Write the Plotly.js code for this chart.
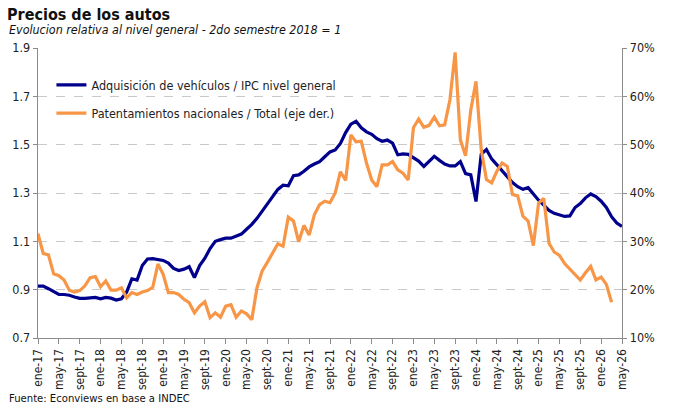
<!DOCTYPE html>
<html>
<head>
<meta charset="utf-8">
<script src="https://cdn.plot.ly/plotly-3.0.1.min.js"></script>
<style>html,body{margin:0;padding:0;background:#fff;}#chart{width:680px;height:408px;}</style>
</head>
<body>
<div id="chart"></div>
<script>
// Tick labels (every 4 months, starting ene-17)
const tickLabels = ['ene-17','may-17','sept-17','ene-18','may-18','sept-18','ene-19','may-19','sept-19',
  'ene-20','may-20','sept-20','ene-21','may-21','sept-21','ene-22','may-22','sept-22',
  'ene-23','may-23','sept-23','ene-24','may-24','sept-24','ene-25','may-25','sept-25','ene-26','may-26'];

// Series names
const seriesBlueName = 'Adquisición de vehículos / IPC nivel general';
const seriesOrangeName = 'Patentamientos nacionales / Total (eje der.)';

// Monthly values from ene-17 (left axis, index 2do sem 2018 = 1)
const adquisicionIPC = [
  0.915,0.915,0.904,0.892,0.880,0.880,0.877,0.870,0.864,0.864,
  0.865,0.868,0.862,0.868,0.865,0.857,0.862,0.890,0.945,0.940,
  1.000,1.027,1.028,1.026,1.021,1.010,0.988,0.979,0.985,0.995,
  0.950,1.000,1.030,1.070,1.100,1.107,1.113,1.113,1.121,1.130,
  1.150,1.170,1.195,1.225,1.260,1.290,1.315,1.332,1.330,1.372,
  1.375,1.390,1.408,1.420,1.430,1.450,1.470,1.478,1.505,1.550,
  1.585,1.597,1.570,1.553,1.543,1.525,1.514,1.519,1.506,1.458,
  1.462,1.460,1.445,1.432,1.410,1.430,1.452,1.435,1.420,1.412,
  1.412,1.430,1.380,1.375,1.265,1.460,1.480,1.441,1.416,1.388,
  1.366,1.343,1.326,1.315,1.322,1.295,1.270,1.250,1.228,1.216,
  1.210,1.203,1.205,1.240,1.256,1.280,1.296,1.285,1.266,1.240,
  1.202,1.176,1.162
];

// Monthly values from ene-17 (right axis, %)
const patentamientosPct = [
  31.6,27.5,27.2,23.3,22.9,22.0,19.9,19.5,19.8,20.8,
  22.5,22.7,20.6,21.8,19.9,19.9,20.4,18.3,19.4,19.0,
  19.5,19.8,20.5,25.3,23.2,19.4,19.4,19.0,18.0,17.3,
  15.2,16.6,17.5,14.2,15.2,14.3,16.6,16.9,14.3,15.6,
  15.0,13.8,20.4,23.9,25.7,27.7,29.5,29.0,35.0,34.2,
  29.9,33.3,31.3,35.5,37.6,38.3,38.0,40.0,44.4,42.6,
  52.0,50.6,50.7,46.2,42.7,41.3,45.8,45.8,46.5,44.8,
  44.1,42.7,53.5,55.3,53.6,54.0,55.7,53.9,54.1,59.3,
  69.1,51.0,47.7,57.2,63.1,49.0,42.8,42.1,44.5,46.2,
  45.5,39.7,39.4,35.2,34.2,29.1,37.9,38.9,29.6,27.8,
  27.1,25.4,24.3,23.3,22.0,23.5,24.8,22.0,22.6,21.1,
  17.4
];

const FONT = '"DejaVu Sans Condensed", "DejaVu Sans", sans-serif';
const monthIdx = arr => arr.map((_, i) => i);
const tickVals = tickLabels.map((_, k) => k * 4);

const traces = [
  {
    x: monthIdx(adquisicionIPC), y: adquisicionIPC, name: seriesBlueName,
    type: 'scatter', mode: 'lines', yaxis: 'y', legendgroup: 'a',
    line: {color: '#00008C', width: 3.2}
  },
  {
    x: monthIdx(patentamientosPct), y: patentamientosPct, name: seriesOrangeName,
    type: 'scatter', mode: 'lines', yaxis: 'y2', legendgroup: 'b',
    line: {color: '#F79646', width: 3.2}
  }
];

const layout = {
  width: 680, height: 408,
  margin: {l: 38, r: 58, t: 48, b: 70, pad: 0},
  paper_bgcolor: '#ffffff', plot_bgcolor: '#ffffff',
  font: {family: FONT, size: 12, color: '#222'},
  showlegend: true,
  legend: {
    x: 0.023, y: 0.923, xanchor: 'left', yanchor: 'top',
    bgcolor: 'rgba(0,0,0,0)', borderwidth: 0,
    font: {family: FONT, size: 12.5, color: '#222'},
    traceorder: 'grouped', tracegroupgap: 9
  },
  title: {
    text: '<b>Precios de los autos</b>',
    x: 7 / 680, xanchor: 'left', xref: 'container',
    y: 1 - 14 / 408, yanchor: 'middle', yref: 'container',
    font: {family: FONT, size: 16, color: '#111'}
  },
  xaxis: {
    range: [0, 112], showgrid: false, zeroline: false,
    showline: true, linecolor: '#8c8c8c', linewidth: 1.3,
    ticks: 'outside', ticklen: 5, tickcolor: '#8c8c8c', tickwidth: 1,
    tickmode: 'array', tickvals: tickVals, ticktext: tickLabels,
    tickangle: -90, tickfont: {family: FONT, size: 12, color: '#222'}
  },
  yaxis: {
    range: [0.7, 1.9], dtick: 0.2, tick0: 0.7, tickformat: '.1f',
    showgrid: true, gridcolor: '#c9c9c9', griddash: 'dash', gridwidth: 1,
    zeroline: false, showline: true, linecolor: '#8c8c8c', linewidth: 1.3,
    ticks: 'outside', ticklen: 4, tickcolor: '#8c8c8c',
    tickfont: {family: FONT, size: 12.5, color: '#222'}
  },
  yaxis2: {
    range: [10, 70], dtick: 10, tick0: 10, ticksuffix: '%',
    overlaying: 'y', side: 'right', showgrid: false, zeroline: false,
    showline: true, linecolor: '#8c8c8c', linewidth: 1.3,
    ticks: 'outside', ticklen: 4, tickcolor: '#8c8c8c',
    tickfont: {family: FONT, size: 12.5, color: '#222'}
  },
  annotations: [
    {
      text: '<i>Evolucion relativa al nivel general - 2do semestre 2018 = 1</i>',
      xref: 'paper', yref: 'paper', x: -0.0536, y: 1.063,
      xanchor: 'left', yanchor: 'middle', showarrow: false,
      font: {family: FONT, size: 12.4, color: '#111'}
    },
    {
      text: 'Fuente: Econviews en base a INDEC',
      xref: 'paper', yref: 'paper', x: -0.0536, y: -0.207,
      xanchor: 'left', yanchor: 'middle', showarrow: false,
      font: {family: FONT, size: 11.2, color: '#111'}
    }
  ]
};

Plotly.newPlot('chart', traces, layout, {displayModeBar: false, staticPlot: true});
</script>
</body>
</html>
